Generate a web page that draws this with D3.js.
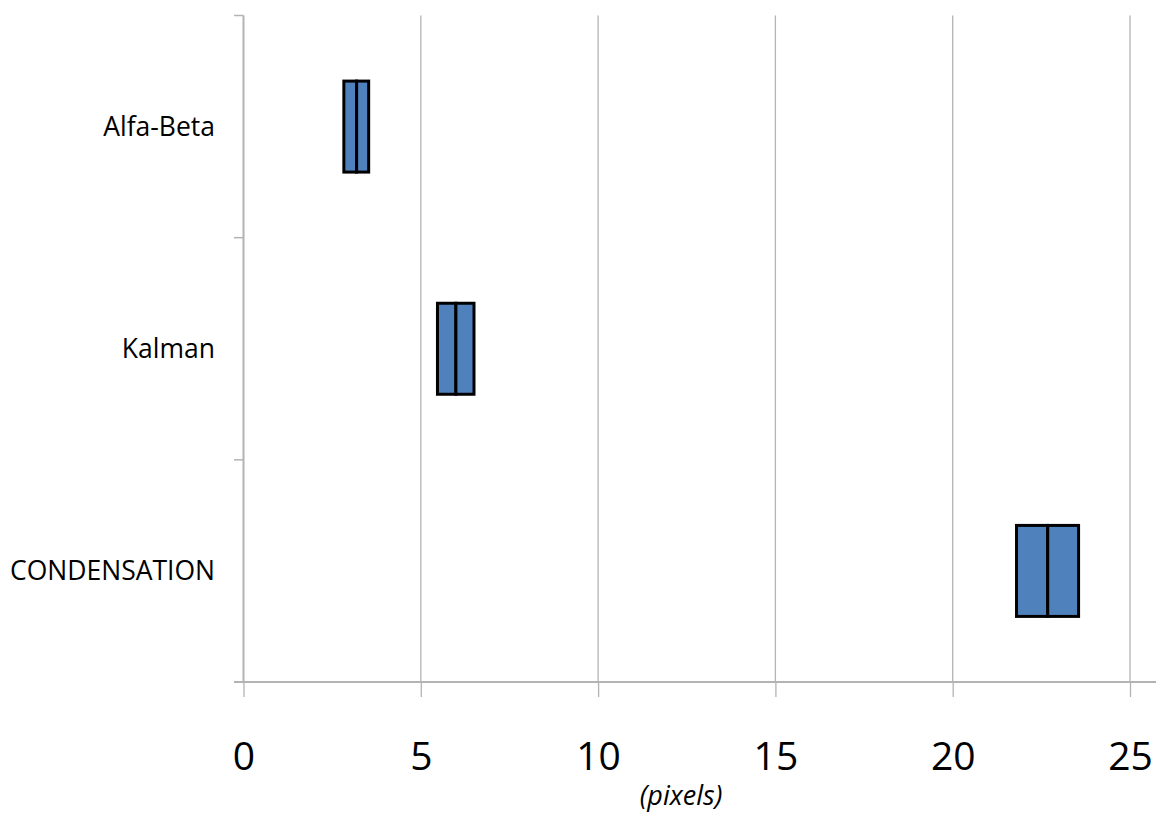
<!DOCTYPE html>
<html>
<head>
<meta charset="utf-8">
<script src="https://cdn.jsdelivr.net/npm/d3@7"></script>
<style>
  html, body { margin: 0; padding: 0; background: #fff; }
  svg { display: block; }
</style>
</head>
<body>
<svg id="chart" width="1156" height="814"></svg>
<script>
const categories = ["Alfa-Beta", "Kalman", "CONDENSATION"];
const boxLow = [2.83, 5.47, 21.80];
const boxMedian = [3.19, 5.99, 22.68];
const boxHigh = [3.53, 6.50, 23.55];
const xTicks = [0, 5, 10, 15, 20, 25];
const xAxisTitle = "(pixels)";

(function () {
const svg = d3.select("#chart");
const font = "'Open Sans', 'Noto Sans', sans-serif";
const pLeft = 243.5, pRight = 1130, pTop = 15.5, pBottom = 682;

const x = d3.scaleLinear().domain([0, 25]).range([pLeft, pRight]);
const y = d3.scaleBand().domain(categories).range([pTop, pBottom]).paddingInner(0).paddingOuter(0);

const grid = "#b3b3b3";

// vertical gridlines
svg.append("g").selectAll("line").data(xTicks.filter(d => d > 0)).join("line")
  .attr("x1", d => x(d)).attr("x2", d => x(d))
  .attr("y1", pTop).attr("y2", pBottom)
  .attr("stroke", grid).attr("stroke-width", 1.3);

// x axis
const xAxis = svg.append("g").attr("transform", `translate(0,${pBottom})`)
  .call(d3.axisBottom(x).tickValues(xTicks).tickSize(15).tickPadding(40).tickSizeOuter(0));
xAxis.select(".domain").remove();
xAxis.selectAll(".tick line").attr("stroke", grid).attr("stroke-width", 1.3);
xAxis.selectAll(".tick text").attr("font-family", font).attr("font-size", 39).attr("fill", "#000")
  .attr("y", 88).attr("dy", 0);
svg.append("line").attr("x1", 234).attr("x2", 1156).attr("y1", pBottom).attr("y2", pBottom)
  .attr("stroke", grid).attr("stroke-width", 2);

// y axis
svg.append("line").attr("x1", pLeft).attr("x2", pLeft).attr("y1", pTop).attr("y2", pBottom)
  .attr("stroke", grid).attr("stroke-width", 2);
const yBounds = [pTop].concat(categories.map(c => y(c) + y.bandwidth()));
svg.append("g").selectAll("line").data(yBounds).join("line")
  .attr("x1", 234).attr("x2", pLeft).attr("y1", d => d).attr("y2", d => d)
  .attr("stroke", grid).attr("stroke-width", 1.5);

// category labels
svg.append("g").selectAll("text").data(categories).join("text")
  .attr("x", 215).attr("y", d => y(d) + y.bandwidth() / 2)
  .attr("dy", "0.35em").attr("text-anchor", "end")
  .attr("font-family", font).attr("font-size", 26.5).attr("fill", "#000")
  .text(d => d);

// boxes
const boxH = 91;
const g = svg.append("g");
categories.forEach((c, i) => {
  const cy = y(c) + y.bandwidth() / 2;
  g.append("rect")
    .attr("x", x(boxLow[i])).attr("y", cy - boxH / 2)
    .attr("width", x(boxMedian[i]) - x(boxLow[i])).attr("height", boxH)
    .attr("fill", "#4f81bd").attr("stroke", "#000").attr("stroke-width", 3);
  g.append("rect")
    .attr("x", x(boxMedian[i])).attr("y", cy - boxH / 2)
    .attr("width", x(boxHigh[i]) - x(boxMedian[i])).attr("height", boxH)
    .attr("fill", "#4f81bd").attr("stroke", "#000").attr("stroke-width", 3);
});

// axis title
svg.append("text").attr("x", 681).attr("y", 805)
  .attr("text-anchor", "middle").attr("font-family", font).attr("font-style", "italic")
  .attr("font-size", 27).attr("fill", "#000").text(xAxisTitle);
})();
</script>
</body>
</html>
